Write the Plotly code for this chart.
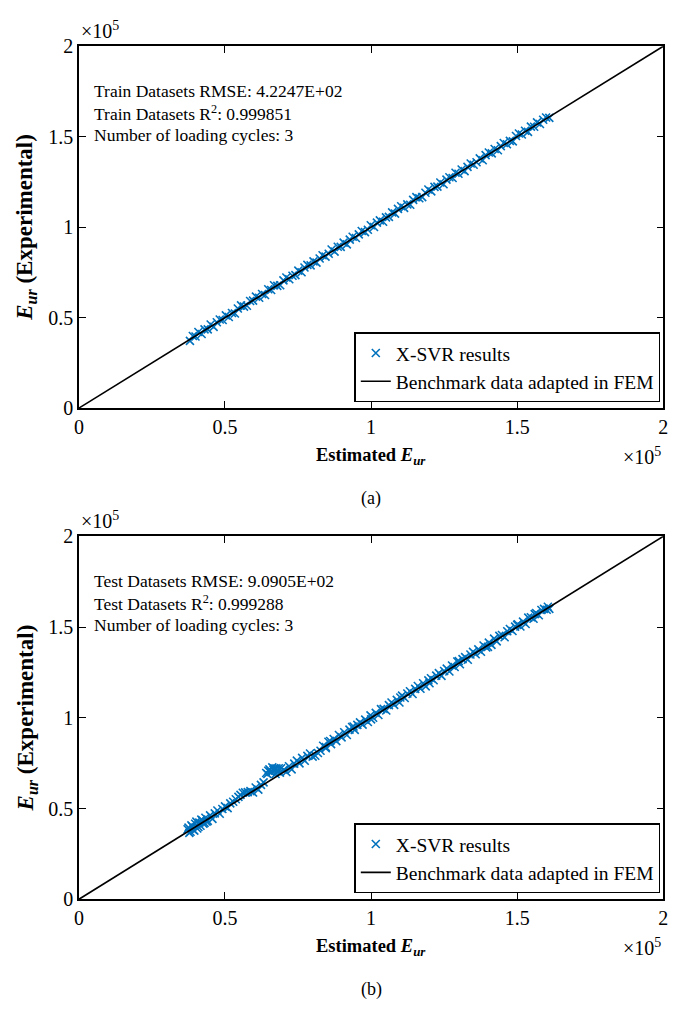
import plotly.graph_objects as go

# ---- data (units of 1e5) ----
train_est = [
    0.380, 0.390, 0.399, 0.409, 0.420, 0.430, 0.441, 0.451, 0.461, 0.472,
    0.482, 0.492, 0.503, 0.513, 0.524, 0.534, 0.544, 0.555, 0.565, 0.575,
    0.586, 0.596, 0.606, 0.617, 0.627, 0.637, 0.648, 0.658, 0.668, 0.679,
    0.689, 0.700, 0.710, 0.720, 0.731, 0.741, 0.751, 0.762, 0.772, 0.782,
    0.793, 0.803, 0.813, 0.824, 0.834, 0.844, 0.855, 0.865, 0.875, 0.886,
    0.896, 0.906, 0.917, 0.927, 0.937, 0.948, 0.958, 0.968, 0.979, 0.989,
    0.999, 1.010, 1.020, 1.030, 1.041, 1.051, 1.061, 1.072, 1.082, 1.092,
    1.103, 1.113, 1.124, 1.134, 1.144, 1.155, 1.165, 1.175, 1.186, 1.196,
    1.206, 1.217, 1.227, 1.237, 1.248, 1.258, 1.268, 1.279, 1.289, 1.299,
    1.310, 1.320, 1.330, 1.341, 1.351, 1.361, 1.372, 1.382, 1.392, 1.403,
    1.413, 1.423, 1.434, 1.444, 1.454, 1.465, 1.475, 1.485, 1.496, 1.506,
    1.516, 1.527, 1.537, 1.547, 1.558, 1.568, 1.578, 1.589, 1.599, 1.610,
]
train_exp = [
    0.372, 0.399, 0.396, 0.421, 0.410, 0.435, 0.435, 0.462, 0.449, 0.475,
    0.490, 0.487, 0.513, 0.504, 0.526, 0.523, 0.551, 0.568, 0.561, 0.566,
    0.592, 0.594, 0.616, 0.610, 0.631, 0.625, 0.657, 0.653, 0.679, 0.676,
    0.679, 0.706, 0.722, 0.712, 0.732, 0.735, 0.760, 0.751, 0.777, 0.792,
    0.789, 0.811, 0.804, 0.827, 0.845, 0.837, 0.853, 0.877, 0.865, 0.892,
    0.891, 0.915, 0.905, 0.931, 0.947, 0.940, 0.960, 0.979, 0.973, 0.986,
    1.011, 1.001, 1.025, 1.038, 1.030, 1.054, 1.057, 1.082, 1.075, 1.101,
    1.116, 1.107, 1.126, 1.124, 1.151, 1.166, 1.160, 1.166, 1.190, 1.208,
    1.198, 1.223, 1.224, 1.247, 1.237, 1.263, 1.276, 1.272, 1.301, 1.295,
    1.319, 1.310, 1.333, 1.352, 1.345, 1.359, 1.380, 1.370, 1.398, 1.413,
    1.408, 1.432, 1.425, 1.448, 1.465, 1.458, 1.477, 1.474, 1.504, 1.518,
    1.512, 1.533, 1.527, 1.556, 1.555, 1.579, 1.570, 1.594, 1.606, 1.604,
]

test_est = [
    0.372, 0.378, 0.385, 0.391, 0.398, 0.405, 0.412, 0.419, 0.426, 0.433,
    0.441, 0.449, 0.457, 0.465, 0.474, 0.482, 0.491, 0.500, 0.509, 0.518,
    0.528, 0.537, 0.546, 0.553, 0.561, 0.569, 0.578, 0.587, 0.596, 0.605,
    0.614, 0.623, 0.632, 0.641, 0.648, 0.655, 0.662, 0.669, 0.676, 0.684,
    0.692, 0.701, 0.710, 0.719, 0.728, 0.737, 0.746, 0.755, 0.764, 0.773,
    0.782, 0.791, 0.800, 0.809, 0.818, 0.827, 0.836, 0.845, 0.854, 0.863,
    0.872, 0.881, 0.890, 0.899, 0.908, 0.917, 0.926, 0.935, 0.944, 0.953,
    0.962, 0.971, 0.980, 0.989, 0.998, 1.007, 1.016, 1.025, 1.034, 1.043,
    1.052, 1.061, 1.070, 1.079, 1.088, 1.097, 1.106, 1.115, 1.124, 1.133,
    1.142, 1.151, 1.160, 1.169, 1.178, 1.187, 1.196, 1.205, 1.214, 1.223,
    1.232, 1.241, 1.250, 1.259, 1.268, 1.277, 1.286, 1.295, 1.304, 1.313,
    1.322, 1.331, 1.340, 1.349, 1.358, 1.367, 1.376, 1.385, 1.394, 1.403,
    1.412, 1.421, 1.430, 1.439, 1.448, 1.457, 1.466, 1.475, 1.484, 1.493,
    1.502, 1.511, 1.520, 1.529, 1.538, 1.547, 1.556, 1.565, 1.574, 1.583,
    1.592, 1.601, 1.610,
    0.375, 0.382, 0.388, 0.395, 0.402, 0.409, 0.416, 0.423, 0.430, 0.437,
    0.645, 0.652, 0.659, 0.666, 0.673, 0.680, 0.688, 0.845, 0.860, 0.940,
    1.000, 1.100, 1.200, 1.300, 1.400, 1.500, 1.560, 1.605,
]
test_exp = [
    0.386, 0.366, 0.407, 0.383, 0.416, 0.390, 0.422, 0.439, 0.416, 0.449,
    0.432, 0.462, 0.443, 0.473, 0.489, 0.471, 0.497, 0.512, 0.502, 0.528,
    0.537, 0.551, 0.564, 0.575, 0.587, 0.589, 0.590, 0.596, 0.588, 0.616,
    0.604, 0.630, 0.644, 0.696, 0.708, 0.703, 0.727, 0.721, 0.721, 0.722,
    0.722, 0.713, 0.701, 0.733, 0.716, 0.747, 0.764, 0.749, 0.779, 0.763,
    0.790, 0.803, 0.786, 0.791, 0.806, 0.818, 0.846, 0.832, 0.868, 0.855,
    0.883, 0.871, 0.905, 0.892, 0.920, 0.905, 0.935, 0.949, 0.933, 0.961,
    0.975, 0.962, 0.990, 0.977, 1.013, 1.000, 1.027, 1.015, 1.048, 1.049,
    1.040, 1.070, 1.084, 1.071, 1.099, 1.084, 1.122, 1.109, 1.134, 1.146,
    1.131, 1.159, 1.175, 1.160, 1.190, 1.173, 1.206, 1.218, 1.207, 1.232,
    1.246, 1.231, 1.258, 1.271, 1.255, 1.288, 1.280, 1.310, 1.295, 1.323,
    1.334, 1.320, 1.349, 1.363, 1.350, 1.377, 1.364, 1.398, 1.387, 1.414,
    1.402, 1.436, 1.421, 1.451, 1.456, 1.444, 1.477, 1.489, 1.478, 1.502,
    1.515, 1.503, 1.530, 1.517, 1.552, 1.554, 1.546, 1.577, 1.565, 1.594,
    1.600, 1.595, 1.600,
    0.395, 0.372, 0.401, 0.378, 0.428, 0.398, 0.405, 0.433, 0.421, 0.428,
    0.690, 0.716, 0.700, 0.712, 0.690, 0.705, 0.698, 0.838, 0.872, 0.952,
    0.991, 1.112, 1.190, 1.312, 1.391, 1.512, 1.571, 1.612,
]

bench_x = [0, 2]
bench_y = [0, 2]

tick_vals = [0, 0.5, 1, 1.5, 2]
tick_text = ["0", "0.5", "1", "1.5", "2"]

train_lines = ["Train Datasets RMSE: 4.2247E+02",
               "Train Datasets R<sup>2</sup>: 0.999851",
               "Number of loading cycles: 3"]
test_lines = ["Test Datasets RMSE: 9.0905E+02",
              "Test Datasets R<sup>2</sup>: 0.999288",
              "Number of loading cycles: 3"]

# ---- layout geometry ----
W, H = 686, 1011
BLUE = "#0072BD"
SERIF = "Liberation Serif"


def px(x):
    return x / W


def py(y):
    return 1 - y / H


panels = [
    dict(top=36, bottom=406, lines=train_lines, est=train_est, exp=train_exp,
         label="(a)", legend="legend", xa="x", ya="y"),
    dict(top=537, bottom=908, lines=test_lines, est=test_est, exp=test_exp,
         label="(b)", legend="legend2", xa="x2", ya="y2"),
]

fig = go.Figure()
annotations = []
axis_common = dict(
    range=[0, 2], tickvals=tick_vals, ticktext=tick_text,
    ticks="inside", ticklen=7, tickwidth=1.2, tickcolor="black",
    showline=True, linecolor="black", linewidth=1.5, mirror="ticks",
    showgrid=False, zeroline=False,
    tickfont=dict(family=SERIF, size=20, color="black"),
)

for i, p in enumerate(panels):
    fig.add_trace(go.Scatter(
        x=p["est"], y=p["exp"], mode="markers", name="X-SVR results",
        marker=dict(symbol="x-thin", size=8, color=BLUE,
                    line=dict(width=1.6, color=BLUE)),
        xaxis=p["xa"], yaxis=p["ya"], legend=p["legend"], showlegend=True,
    ))
    fig.add_trace(go.Scatter(
        x=bench_x, y=bench_y, mode="lines", name="Benchmark data adapted in FEM",
        line=dict(color="black", width=1.6),
        xaxis=p["xa"], yaxis=p["ya"], legend=p["legend"], showlegend=True,
    ))
    suffix = "" if i == 0 else "2"
    fig.update_layout(**{
        "xaxis" + suffix: dict(axis_common, domain=[px(75), px(668)],
                               anchor="y" + suffix),
        "yaxis" + suffix: dict(axis_common, domain=[py(p["bottom"]), py(p["top"])],
                               anchor="x" + suffix),
        p["legend"]: dict(
            x=px(665), xanchor="right", y=py(p["bottom"] - 6), yanchor="bottom",
            bgcolor="white", bordercolor="black", borderwidth=1.5,
            font=dict(family=SERIF, size=19.5, color="black"),
            tracegroupgap=0,
        ),
    })
    # stats text
    for k, t in enumerate(p["lines"]):
        annotations.append(dict(
            x=px(88), y=py(p["top"] + 46 + 22.5 * k), xref="paper", yref="paper",
            text=t, showarrow=False, xanchor="left", yanchor="middle",
            font=dict(family=SERIF, size=17.5, color="black")))
    # exponent labels
    annotations.append(dict(
        x=px(75), y=py(p["top"] - 17), xref="paper", yref="paper",
        text="\u00d710<sup>5</sup>", showarrow=False, xanchor="left", yanchor="middle",
        font=dict(family=SERIF, size=20, color="black")))
    annotations.append(dict(
        x=px(668), y=py(p["bottom"] + 49), xref="paper", yref="paper",
        text="\u00d710<sup>5</sup>", showarrow=False, xanchor="right", yanchor="middle",
        font=dict(family=SERIF, size=20, color="black")))
    # axis titles
    annotations.append(dict(
        x=px(371.5), y=py(p["bottom"] + 49), xref="paper", yref="paper",
        text="<b>Estimated <i>E</i><sub><i>ur</i></sub></b>", showarrow=False,
        xanchor="center", yanchor="middle",
        font=dict(family=SERIF, size=18.5, color="black")))
    annotations.append(dict(
        x=px(22), y=py((p["top"] + p["bottom"]) / 2), xref="paper", yref="paper",
        text="<b><i>E</i><sub><i>ur</i></sub> (Experimental)</b>", showarrow=False,
        textangle=-90, xanchor="center", yanchor="middle",
        font=dict(family=SERIF, size=23, color="black")))
    # panel label
    annotations.append(dict(
        x=px(371.5), y=py(p["bottom"] + 92), xref="paper", yref="paper",
        text=p["label"], showarrow=False, xanchor="center", yanchor="middle",
        font=dict(family=SERIF, size=18, color="black")))

fig.update_layout(
    width=W, height=H, autosize=False,
    margin=dict(l=0, r=0, t=0, b=0),
    paper_bgcolor="white", plot_bgcolor="white",
    annotations=annotations,
    font=dict(family=SERIF, color="black"),
)

fig.write_html("out.html",
               config={"displayModeBar": False},
               post_script="document.body.style.margin='0px';"
                           "document.body.style.overflow='hidden';")
